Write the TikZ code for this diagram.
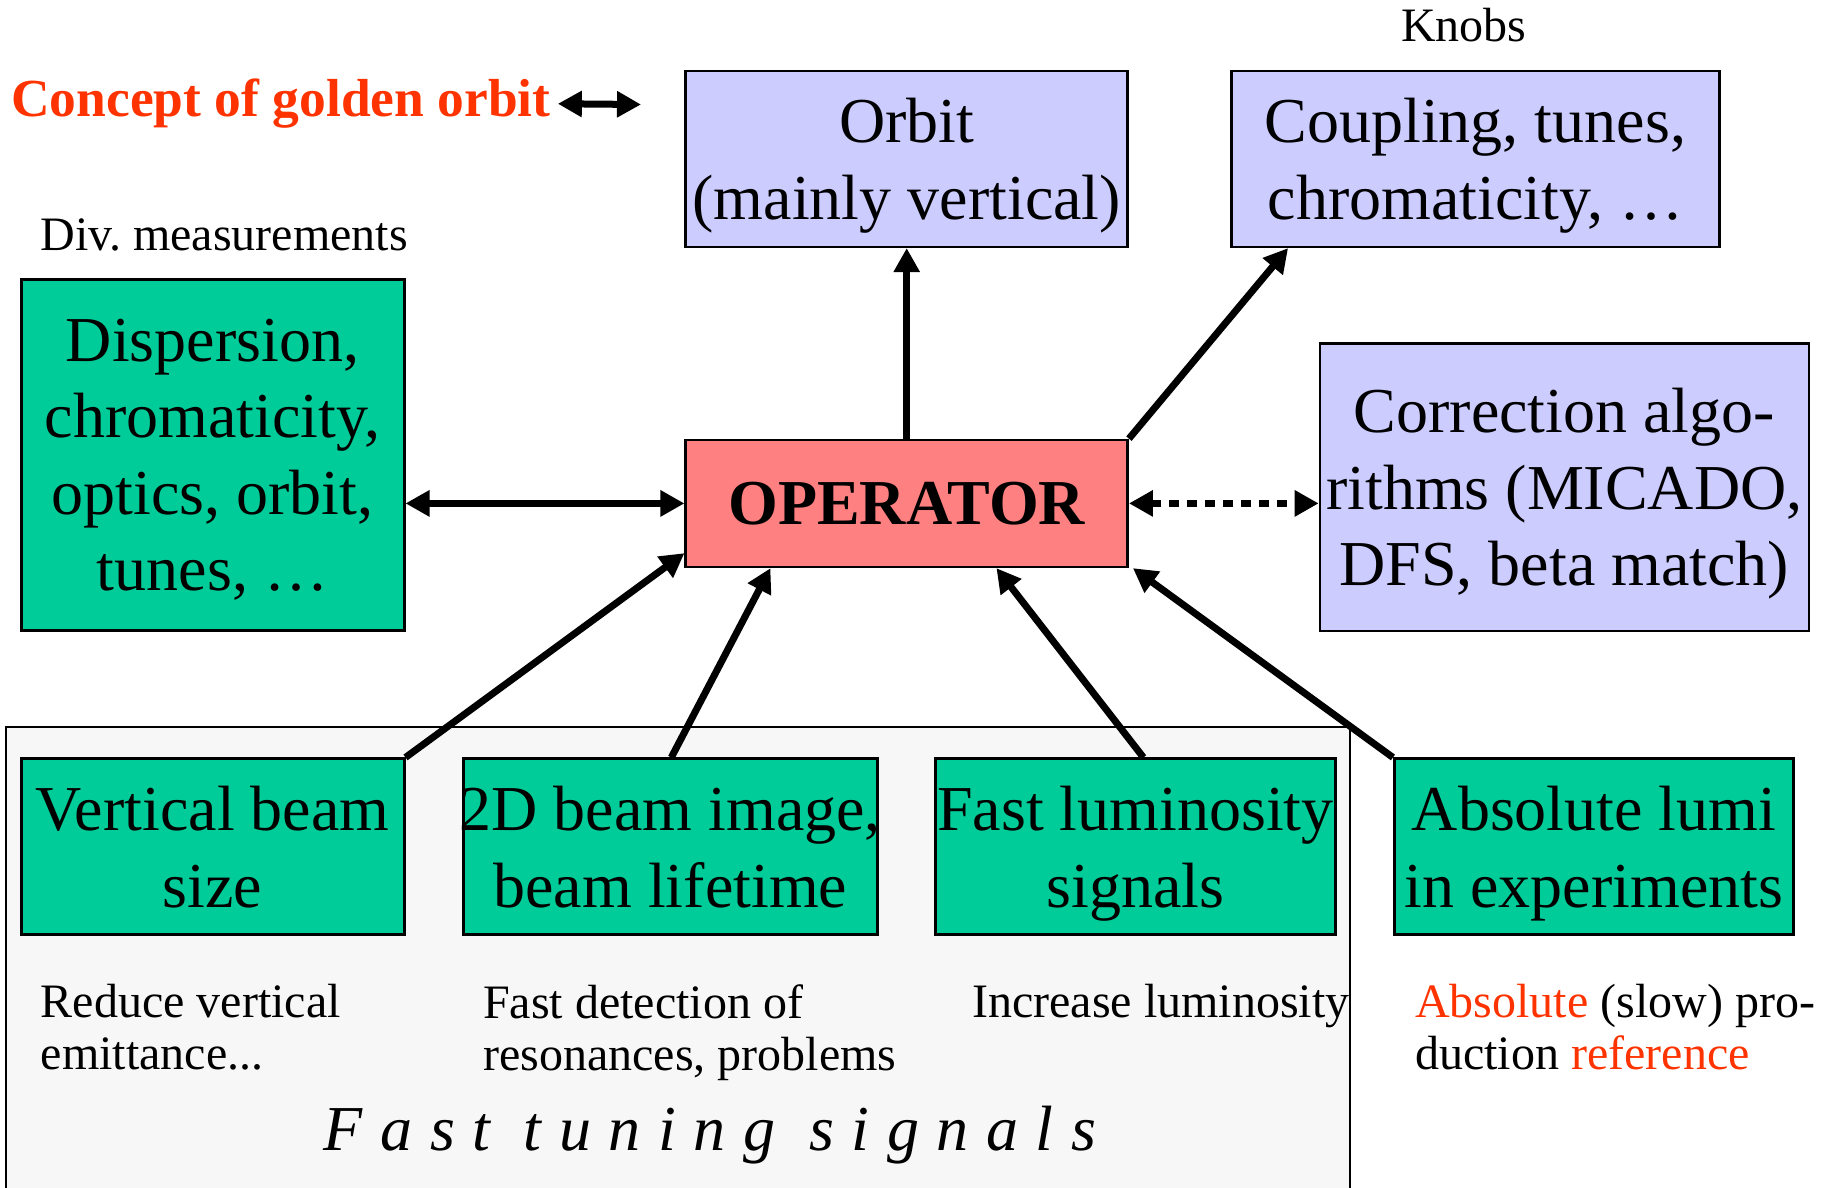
\documentclass[tikz,border=0pt]{standalone}
\usepackage{fontspec}
\setmainfont{Liberation Serif}
\usetikzlibrary{arrows.meta}
\definecolor{lav}{HTML}{CCCCFF}
\definecolor{grn}{HTML}{00CC99}
\definecolor{opred}{HTML}{FF8080}
\definecolor{hot}{HTML}{FF3300}
\definecolor{panelgray}{HTML}{F7F7F7}
\newcommand{\bigf}{\fontsize{64}{76.5}\selectfont}
\newcommand{\smallf}{\fontsize{48}{52}\selectfont}
\begin{document}
\begin{tikzpicture}[x=1pt,y=-1pt,
  box/.style={draw=black,line width=2.5pt,inner sep=0pt,align=center,font=\bigf,text depth=-4pt},
  lavbox/.style={box,fill=lav},
  grnbox/.style={box,fill=grn,line width=3pt},
  opbox/.style={box,fill=opred,font=\bigf\bfseries,text depth=0pt},
  note/.style={inner sep=0pt,align=left,font=\smallf},
  arr/.style={line width=7pt,-{Triangle[length=24pt,width=25pt]}},
  darr/.style={line width=7pt,{Triangle[length=24pt,width=25pt]}-{Triangle[length=24pt,width=25pt]}},
  dotarr/.style={darr,dash pattern=on 10pt off 8pt},
]
\useasboundingbox (0,0) rectangle (1825,1188);
% panel
\fill[panelgray] (6,727) rectangle (1350,1188);
\draw[line width=2pt] (6,1188) -- (6,727) -- (1350,727) -- (1350,1188);

% top labels
\node[inner sep=0pt,anchor=base west,font=\fontsize{53.5}{60}\selectfont\bfseries,text=hot] (concept) at (11,116.7) {Concept of golden orbit};
\coordinate (gend) at (641,104.5);
\node[note,anchor=base west] (knobs) at (1401,41.7) {Knobs};
\node[note,anchor=base west] (divm) at (40.2,250) {Div.\ measurements};

% boxes
\node[lavbox,minimum width=442pt,minimum height=176pt] (orbit) at (906.7,158.9) {Orbit\\(mainly vertical)};
\node[lavbox,minimum width=488pt,minimum height=176pt] (coupling) at (1475.3,158.9) {Coupling, tunes,\\chromaticity, …};
\node[grnbox,minimum width=383pt,minimum height=351.5pt] (disp) at (212.5,455) {Dispersion,\\chromaticity,\\optics, orbit,\\tunes, …};
\node[opbox,minimum width=442pt,minimum height=127pt] (op) at (906.7,503.4) {OPERATOR};
\node[lavbox,minimum width=489pt,minimum height=287.4pt] (corr) at (1564.4,487.1) {Correction algo-\\rithms (MICADO,\\DFS, beta match)};

\node[grnbox,minimum width=383pt,minimum height=175.7pt] (vbeam) at (212.5,846.8) {Vertical beam\\size};
\node[grnbox,minimum width=414.6pt,minimum height=175.7pt,inner xsep=-8pt] (img2d) at (670.3,846.8) {2D beam image,\\beam lifetime};
\node[grnbox,minimum width=399.2pt,minimum height=175.7pt] (flumi) at (1135.4,846.8) {Fast luminosity\\signals};
\node[grnbox,minimum width=399.2pt,minimum height=175.7pt] (alumi) at (1594,846.8) {Absolute lumi\\in experiments};

% notes below
\node[note,anchor=north west] (n1) at (40.7,984) {Reduce vertical\\emittance...};
\node[note,anchor=north west] (n2) at (483,984) {Fast detection of\\resonances, problems};
\node[note,anchor=north west] (n3) at (972,984) {Increase luminosity};
\node[note,anchor=north west] (n4) at (1415,984) {\textcolor{hot}{Absolute} (slow) pro-\\duction \textcolor{hot}{reference}};
\node[inner sep=0pt,anchor=base west,font=\fontsize{64}{70}\selectfont\itshape\addfontfeatures{LetterSpace=27.5}] (fts) at (323.6,1150) {Fast tuning signals};

% connectors
\draw[darr] ([xshift=7pt]concept.east) -- (gend);
\draw[arr] (op.north) -- (orbit.south);
\draw[arr] (op.north east) -- ([xshift=58pt]coupling.south west);
\draw[darr] (disp.east |- op.west) -- (op.west);
\draw[dotarr] (op.east) -- (corr.west |- op.east);
\draw[arr] (vbeam.north east) -- ([yshift=15pt]op.south west);
\draw[arr] ([xshift=1pt]img2d.north) -- ([xshift=86pt]op.south west);
\draw[arr] ([xshift=8pt]flumi.north) -- ([xshift=312pt]op.south west);
\draw[arr] (alumi.north west) -- ([xshift=4pt]op.south east);
\end{tikzpicture}
\end{document}
